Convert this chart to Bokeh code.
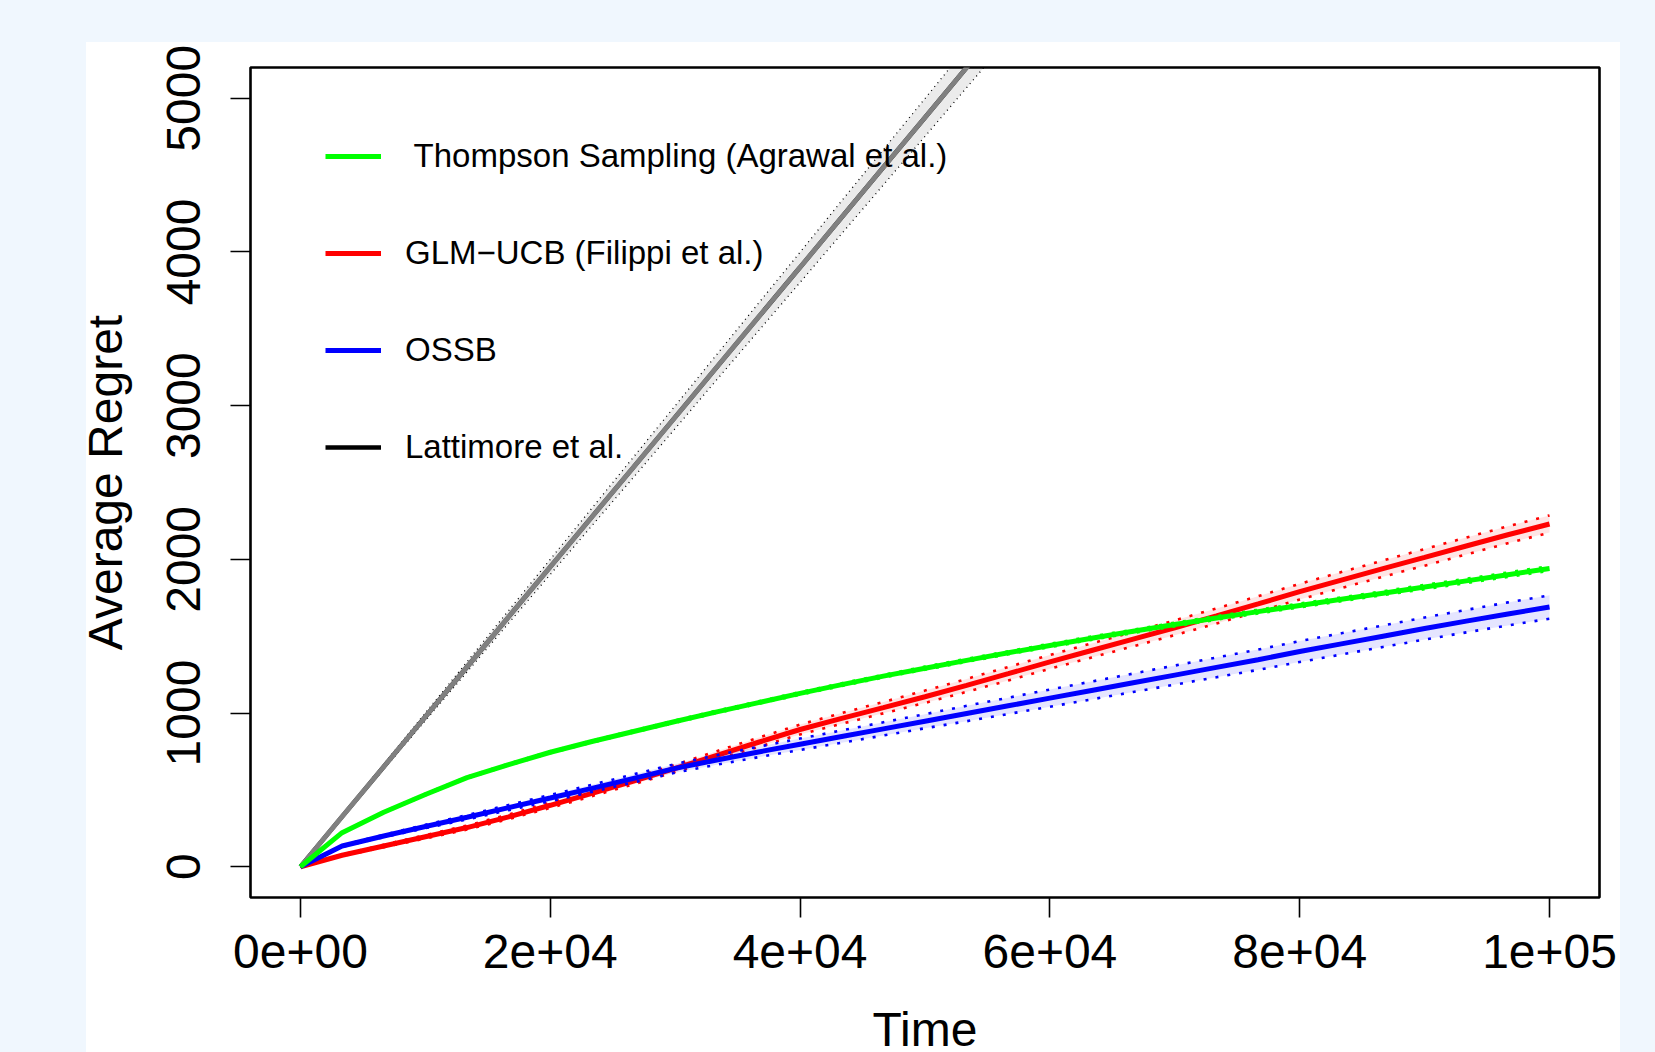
import re
from bokeh.plotting import figure
from bokeh.models import FixedTicker, Legend, LegendItem, Range1d
from bokeh.embed import file_html
from bokeh.resources import INLINE

# ---------------- data ----------------
time = [0, 3333, 6667, 10000, 13333, 16667, 20000, 23333, 26667, 30000,
        33333, 36667, 40000, 43333, 46667, 50000, 53333, 56667, 60000, 63333,
        66667, 70000, 73333, 76667, 80000, 83333, 86667, 90000, 93333, 96667,
        100000]

ts_mean = [0, 222, 355, 470, 580, 665, 745, 815, 880, 945,
           1008, 1068, 1128, 1185, 1240, 1292, 1343, 1392, 1440, 1487,
           1532, 1576, 1619, 1660, 1700, 1740, 1780, 1820, 1860, 1900,
           1940]
ts_ci = [0, 3, 4, 5, 5, 6, 6, 7, 7, 8, 8, 8, 9, 9, 9, 10, 10, 10, 11, 11,
         11, 12, 12, 12, 13, 13, 13, 14, 14, 15, 15]

glm_mean = [0, 75, 135, 195, 255, 325, 400, 478, 558, 640,
            725, 810, 893, 965, 1035, 1106, 1180, 1256, 1333, 1407,
            1481, 1555, 1632, 1710, 1790, 1865, 1940, 2013, 2087, 2160,
            2230]
glm_ci = [0, 5, 8, 11, 13, 15, 17, 19, 21, 24, 27, 30, 32, 35, 37, 40, 42,
          44, 45, 46, 47, 48, 49, 50, 51, 52, 53, 54, 55, 55, 56]

ossb_mean = [0, 135, 200, 262, 322, 385, 447, 510, 575, 640,
             695, 747, 797, 847, 897, 947, 997, 1047, 1097, 1147,
             1197, 1247, 1297, 1347, 1400, 1450, 1500, 1550, 1598, 1645,
             1690]
ossb_ci = [0, 5, 8, 11, 14, 17, 20, 23, 26, 28, 31, 34, 37, 40, 43, 46, 50,
           53, 56, 58, 60, 62, 64, 66, 68, 69, 70, 72, 73, 75, 76]

latt_mean = [0, 326, 651, 976, 1300, 1626, 1951, 2276, 2600, 2925,
             3251, 3576, 3900, 4226, 4551, 4875, 5200, 5526, 5851, 6175,
             6500, 6826, 7150, 7475, 7800, 8126, 8450, 8775, 9100, 9426,
             9750]
latt_ci = [0, 8, 16, 25, 33, 41, 49, 57, 66, 74, 82, 90, 98, 107, 115, 123,
           131, 140, 148, 156, 164, 172, 181, 189, 197, 205, 213, 222, 230,
           238, 246]

series_labels = [" Thompson Sampling (Agrawal et al.)",
                 "GLM\u2212UCB (Filippi et al.)",
                 "OSSB",
                 "Lattimore et al."]

x_ticks = [0, 20000, 40000, 60000, 80000, 100000]
x_tick_labels = ["0e+00", "2e+04", "4e+04", "6e+04", "8e+04", "1e+05"]
y_ticks = [0, 1000, 2000, 3000, 4000, 5000]
y_tick_labels = ["0", "1000", "2000", "3000", "4000", "5000"]

x_title = "Time"
y_title = "Average Regret"

# ---------------- figure ----------------
FONT = "Liberation Sans"
BG = "#F0F7FE"

p = figure(
    output_backend="svg", toolbar_location=None,
    frame_width=1349, frame_height=830,
    min_border_left=180, min_border_right=21,
    min_border_top=25, min_border_bottom=154,
    x_range=Range1d(-4000, 104000), y_range=Range1d(-200, 5200),
    background_fill_color="white",
    border_fill_color="white", border_fill_alpha=0,
    outline_line_color="black", outline_line_width=2.6,
    margin=(42, 0, 0, 70),
    styles={"background": "linear-gradient(to right, %s 16px, #ffffff 16px)" % BG},
)
p.grid.visible = False


def lo(m, c):
    return [a - b for a, b in zip(m, c)]


def hi(m, c):
    return [a + b for a, b in zip(m, c)]


# Lattimore et al. (grey, with band)
p.varea(x=time, y1=lo(latt_mean, latt_ci), y2=hi(latt_mean, latt_ci),
        fill_color="black", fill_alpha=0.08)
for yy in (lo(latt_mean, latt_ci), hi(latt_mean, latt_ci)):
    p.line(time, yy, line_color="black", line_width=1.3, line_dash="1 4")
r_latt_key = p.line(time, latt_mean, line_color="black", line_width=4.5)
p.line(time, latt_mean, line_color="#808080", line_width=4.8)


def band_series(mean, ci, color, fill_alpha, lw=5):
    p.varea(x=time, y1=lo(mean, ci), y2=hi(mean, ci),
            fill_color=color, fill_alpha=fill_alpha)
    for yy in (lo(mean, ci), hi(mean, ci)):
        p.line(time, yy, line_color=color, line_width=2.6, line_dash="3 9")
    return p.line(time, mean, line_color=color, line_width=lw)


r_glm = band_series(glm_mean, glm_ci, "#FF0000", 0.1)
r_ossb = band_series(ossb_mean, ossb_ci, "#0000FF", 0.1)
r_ts = band_series(ts_mean, ts_ci, "#00FF00", 0.1)

# ---------------- axes ----------------
for ax in (p.xaxis, p.yaxis):
    ax.axis_line_color = None
    ax.major_tick_in = 0
    ax.major_tick_out = 20
    ax.major_tick_line_width = 1.6
    ax.minor_tick_line_color = None
    ax.major_label_text_font = FONT
    ax.major_label_text_font_size = "48px"
    ax.major_label_text_color = "black"
    ax.axis_label_text_font = FONT
    ax.axis_label_text_font_size = "48px"
    ax.axis_label_text_font_style = "normal"
    ax.axis_label_text_color = "black"

p.xaxis.ticker = FixedTicker(ticks=x_ticks)
p.xaxis.major_label_overrides = dict(zip(x_ticks, x_tick_labels))
p.xaxis.major_label_standoff = 17
p.xaxis.axis_label = x_title
p.xaxis.axis_label_standoff = 32

p.yaxis.ticker = FixedTicker(ticks=y_ticks)
p.yaxis.major_label_overrides = dict(zip(y_ticks, y_tick_labels))
p.yaxis.major_label_orientation = "vertical"
p.yaxis.major_label_standoff = 30
p.yaxis.axis_label = y_title
p.yaxis.axis_label_standoff = 33

# ---------------- legend ----------------
legend = Legend(
    items=[LegendItem(label=series_labels[0], renderers=[r_ts]),
           LegendItem(label=series_labels[1], renderers=[r_glm]),
           LegendItem(label=series_labels[2], renderers=[r_ossb]),
           LegendItem(label=series_labels[3], renderers=[r_latt_key])],
    location=(75, 430),
    border_line_color=None, background_fill_alpha=0,
    padding=0, margin=0, spacing=57,
    glyph_width=56, glyph_height=40, label_height=40,
    label_standoff=24,
    label_text_font=FONT, label_text_font_size="33px",
    label_text_color="black",
)
p.add_layout(legend)

html = file_html(p, INLINE)
style = ("<style>html, body { background-color: %s !important; "
         "overflow: hidden !important; }</style>" % BG)
if "</head>" in html:
    html = html.replace("</head>", style + "</head>", 1)
html = re.sub(r"<body([^>]*)>",
              r'<body\1 style="background-color:%s;">' % BG, html, count=1)
open("out.html", "w").write(html)
